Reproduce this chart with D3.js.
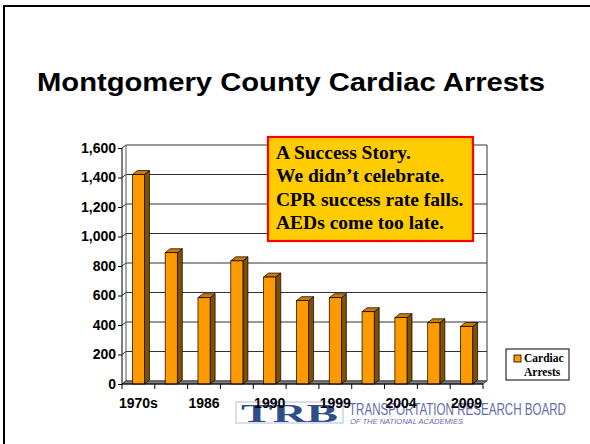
<!DOCTYPE html>
<html>
<head>
<meta charset="utf-8">
<script src="https://cdn.jsdelivr.net/npm/d3@7"></script>
<style>
  body { margin: 0; background: #fff; }
  svg { display: block; }
</style>
</head>
<body>
<div id="wrapper"></div>
<script>
// chart data
const years = ["1970s", "1980", "1986", "1988", "1990", "1995", "1999", "2002", "2004", "2007", "2009"];
const shownYears = ["1970s", "1986", "1990", "1999", "2004", "2009"];
const arrests = [1420, 890, 585, 835, 725, 565, 585, 490, 450, 415, 390];
const yTicks = [0, 200, 400, 600, 800, 1000, 1200, 1400, 1600];
const noteLines = ["A Success Story.", "We didn\u2019t celebrate.", "CPR success rate falls.", "AEDs come too late."];
const seriesName = ["Cardiac", "Arrests"];

function drawChart() {
    const dimensions = {
        width: 590,
        height: 444,
        left: 122,
        right: 483,
        top: 148,
        bottom: 384,
        depthX: 4,
        depthY: 3
    };

    const wrapper = d3.select("#wrapper")
        .append("svg")
        .attr("width", dimensions.width)
        .attr("height", dimensions.height);

    // slide frame
    wrapper.append("path")
        .attr("d", `M4,${dimensions.height} V6 H${dimensions.width}`)
        .attr("fill", "none")
        .attr("stroke", "#000")
        .attr("stroke-width", 2);

    // title
    wrapper.append("text")
        .attr("x", 37)
        .attr("y", 91)
        .attr("font-family", "Liberation Sans, Arial, sans-serif")
        .attr("font-weight", "bold")
        .attr("font-size", "25.5px")
        .attr("textLength", 508)
        .attr("lengthAdjust", "spacingAndGlyphs")
        .text("Montgomery County Cardiac Arrests");

    const xScale = d3.scaleBand()
        .domain(years)
        .range([dimensions.left, dimensions.right])
        .paddingInner(0.63)
        .paddingOuter(0.315);

    const yScale = d3.scaleLinear()
        .domain([0, 1600])
        .range([dimensions.bottom, dimensions.top]);

    const dx = dimensions.depthX, dy = dimensions.depthY;
    const walls = wrapper.append("g");

    // back wall gridlines + left wall diagonals
    walls.selectAll(".grid")
        .data(yTicks)
        .join("path")
        .attr("class", "grid")
        .attr("d", d => `M${dimensions.left},${yScale(d)} L${dimensions.left + dx},${yScale(d) - dy} H${dimensions.right + dx}`)
        .attr("fill", "none")
        .attr("stroke", "#333")
        .attr("stroke-width", 1);

    // back wall left edge and right edge
    walls.append("path")
        .attr("d", `M${dimensions.left + dx},${yScale(1600) - dy} V${dimensions.bottom - dy}`)
        .attr("stroke", "#555")
        .attr("fill", "none");
    walls.append("path")
        .attr("d", `M${dimensions.right + dx},${yScale(1600) - dy} V${dimensions.bottom - dy}`)
        .attr("stroke", "#333")
        .attr("fill", "none");

    // floor
    walls.append("path")
        .attr("d", `M${dimensions.left},${dimensions.bottom} H${dimensions.right} L${dimensions.right + dx},${dimensions.bottom - dy} H${dimensions.left + dx} Z`)
        .attr("fill", "#808080")
        .attr("stroke", "#333")
        .attr("stroke-width", 0.8);

    // bars
    const bw = xScale.bandwidth();
    const bdx = 5, bdy = 4;
    const bars = wrapper.append("g").selectAll("g")
        .data(arrests)
        .join("g");

    bars.append("path")
        .attr("d", (d, i) => {
            const x = xScale(years[i]) + bw, y = yScale(d);
            return `M${x},${y} L${x + bdx},${y - bdy} V${dimensions.bottom - bdy} L${x},${dimensions.bottom} Z`;
        })
        .attr("fill", "#7f5000")
        .attr("stroke", "#000")
        .attr("stroke-width", 0.7);

    bars.append("path")
        .attr("d", (d, i) => {
            const x = xScale(years[i]), y = yScale(d);
            return `M${x},${y} L${x + bdx},${y - bdy} H${x + bw + bdx} L${x + bw},${y} Z`;
        })
        .attr("fill", "#cc7a00")
        .attr("stroke", "#000")
        .attr("stroke-width", 0.7);

    bars.append("rect")
        .attr("x", (d, i) => xScale(years[i]))
        .attr("y", d => yScale(d))
        .attr("width", bw)
        .attr("height", d => dimensions.bottom - yScale(d))
        .attr("fill", "#ff9900")
        .attr("stroke", "#000")
        .attr("stroke-width", 0.7);

    // y axis
    const yAxis = wrapper.append("g")
        .attr("transform", `translate(${dimensions.left},0)`)
        .call(d3.axisLeft(yScale).tickValues(yTicks).tickFormat(d3.format(",")).tickSize(4).tickPadding(2));
    yAxis.select(".domain").attr("stroke", "#000").attr("d", `M0,${yScale(1600)} V${dimensions.bottom}`);
    yAxis.selectAll("text")
        .attr("font-family", "Liberation Sans, Arial, sans-serif")
        .attr("font-weight", "bold")
        .attr("font-size", "14px")
        .attr("fill", "#000");

    // TRB logo (sits behind x labels)
    const logo = wrapper.append("g");
    logo.append("rect")
        .attr("x", 236).attr("y", 402).attr("width", 107).attr("height", 21)
        .attr("fill", "#fff")
        .attr("stroke", "#c3c8da")
        .attr("stroke-width", 1.2);
    logo.append("text")
        .attr("x", 241).attr("y", 421.5)
        .attr("font-family", "Liberation Serif, Times New Roman, serif")
        .attr("font-weight", "bold")
        .attr("font-size", "26px")
        .attr("textLength", 97)
        .attr("lengthAdjust", "spacingAndGlyphs")
        .attr("fill", "#2e4d8a")
        .text("TRB");
    logo.append("text")
        .attr("x", 349).attr("y", 415)
        .attr("font-family", "Liberation Sans, Arial, sans-serif")
        .attr("font-size", "17px")
        .attr("textLength", 217)
        .attr("lengthAdjust", "spacingAndGlyphs")
        .attr("fill", "#4b4f9e")
        .attr("opacity", 0.85)
        .text("TRANSPORTATION RESEARCH BOARD");
    logo.append("text")
        .attr("x", 350).attr("y", 424)
        .attr("font-family", "Liberation Sans, Arial, sans-serif")
        .attr("font-style", "italic")
        .attr("font-size", "7px")
        .attr("textLength", 113)
        .attr("lengthAdjust", "spacingAndGlyphs")
        .attr("fill", "#4b4f9e")
        .attr("opacity", 0.85)
        .text("OF THE NATIONAL ACADEMIES");

    // x axis: ticks at category boundaries, every other label
    const xAxis = wrapper.append("g")
        .attr("transform", `translate(0,${dimensions.bottom})`);
    xAxis.append("path")
        .attr("d", `M${dimensions.left},0 H${dimensions.right}`)
        .attr("stroke", "#000");
    xAxis.selectAll(".xtick")
        .data(years.concat([null]))
        .join("path")
        .attr("class", "xtick")
        .attr("d", (d, i) => {
            const x = dimensions.left + i * xScale.step();
            return `M${x},0 V5`;
        })
        .attr("stroke", "#000");
    xAxis.selectAll(".xlabel")
        .data(shownYears)
        .join("text")
        .attr("class", "xlabel")
        .attr("x", d => xScale(d) + bw / 2)
        .attr("y", 24)
        .attr("text-anchor", "middle")
        .attr("font-family", "Liberation Sans, Arial, sans-serif")
        .attr("font-weight", "bold")
        .attr("font-size", "14px")
        .text(d => d);

    // annotation box
    const note = wrapper.append("g");
    note.append("rect")
        .attr("x", 268).attr("y", 137).attr("width", 205).attr("height", 104)
        .attr("fill", "#ffcc00")
        .attr("stroke", "#ff0000")
        .attr("stroke-width", 2.2);
    note.selectAll("text")
        .data(noteLines)
        .join("text")
        .attr("x", 276)
        .attr("y", (d, i) => 159 + i * 23.3)
        .attr("font-family", "Liberation Serif, Times New Roman, serif")
        .attr("font-weight", "bold")
        .attr("font-size", "19.5px")
        .text(d => d);

    // legend
    const legend = wrapper.append("g");
    legend.append("rect")
        .attr("x", 506).attr("y", 349).attr("width", 63).attr("height", 31)
        .attr("fill", "#fff")
        .attr("stroke", "#000")
        .attr("stroke-width", 1);
    legend.append("rect")
        .attr("x", 514).attr("y", 355).attr("width", 7).attr("height", 7)
        .attr("fill", "#ff9900")
        .attr("stroke", "#000")
        .attr("stroke-width", 0.8);
    legend.selectAll(".ltext")
        .data(seriesName)
        .join("text")
        .attr("class", "ltext")
        .attr("x", 524)
        .attr("y", (d, i) => 362 + i * 14)
        .attr("font-family", "Liberation Serif, Times New Roman, serif")
        .attr("font-weight", "bold")
        .attr("font-size", "11.5px")
        .text(d => d);
}

drawChart();
</script>
</body>
</html>
